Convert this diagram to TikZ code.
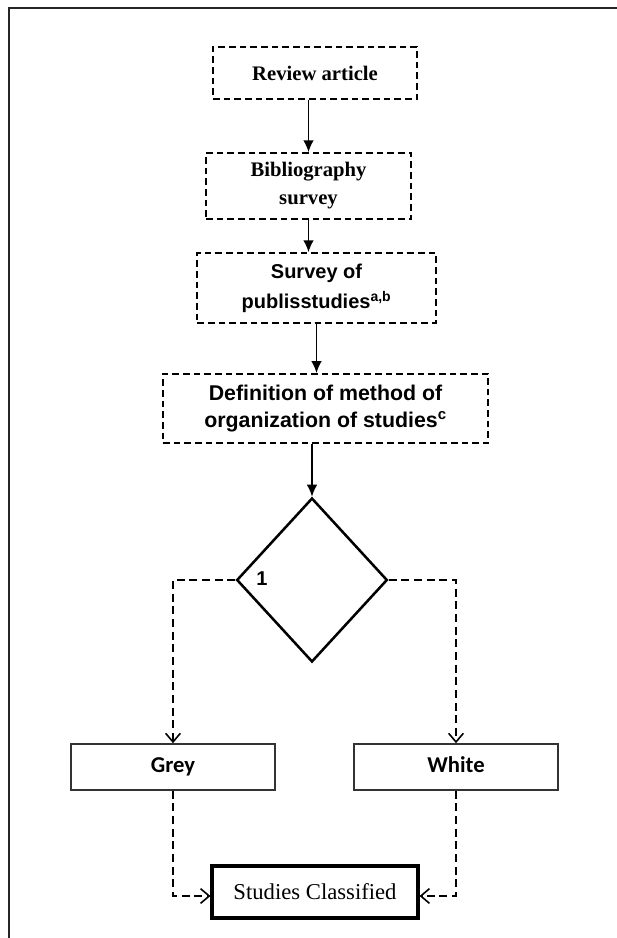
\documentclass[tikz,border=0pt]{standalone}
\usepackage{fontspec}
\setmainfont{Liberation Serif}
\newfontfamily\arialf{Liberation Sans}
\newfontfamily\calibf{Carlito}
\usepackage{tikz}
\usetikzlibrary{shapes.geometric}
\usetikzlibrary{arrows.meta}
\tikzstyle{dbox} = [draw, dashed, line width=1.1pt, dash pattern=on 5pt off 3pt,
	align=center, inner sep=0pt]
\tikzstyle{pbox} = [draw=black!80, line width=1.2pt, inner sep=0pt,
	minimum width=153pt, minimum height=34.5pt, text height=0.85em, text depth=0.1em,
	font=\calibf\fontsize{17}{20}\selectfont\bfseries]
\tikzstyle{arrow} = [line width=1.3pt, -{Latex[length=9pt,width=8pt]}]
\tikzstyle{darrow} = [line width=1.2pt, dash pattern=on 6pt off 3.5pt,
	-{Straight Barb[length=6.5pt,width=11pt,line width=1.2pt]}]

\begin{document}
\begin{tikzpicture}[x=0.75pt,y=-0.75pt]
	\useasboundingbox (0,0) rectangle (617,938);
	\draw[line width=1.5pt, black!85] (617,8) -- (9,8) -- (9,938);    % frame

	\node[dbox, minimum width=153pt, minimum height=39pt,
		font=\fontsize{15.5}{21}\selectfont\bfseries] (rev) at (315,73) {Review article};
	\node[dbox, minimum width=153.75pt, minimum height=49.5pt,
		font=\fontsize{15.5}{21}\selectfont\bfseries] (bib) at (308.5,186) {Bibliography\\ survey};
	\node[dbox, minimum width=179pt, minimum height=52.5pt,
		font=\arialf\fontsize{15}{22.5}\selectfont\bfseries] (pub) at (316.5,288)
		{Survey of\\ publisstudies\textsuperscript{a,b}};
	\node[dbox, minimum width=244pt, minimum height=52pt,
		font=\arialf\fontsize{16}{20.5}\selectfont\bfseries] (def) at (325.5,408.5)
		{Definition of method of\\ organization of studies\textsuperscript{c}};

	\node[diamond, draw, line width=1.9pt, inner sep=0pt, minimum width=113pt,
		minimum height=123pt] (dec) at (312,580) {};
	\node[font=\arialf\fontsize{15}{18}\selectfont\bfseries] (one) at (262,579) {1};

	\node[pbox] (grey) at (173,767) {Grey};
	\node[pbox] (white) at (456,767) {White};
	\node[draw, line width=2.3pt, minimum width=154.5pt, minimum height=39pt,
		inner sep=0pt, font=\fontsize{17}{20}\selectfont] (res) at (315,892) {Studies Classified};

	\draw[arrow] (rev.south -| bib.north) -- (bib.north);
	\draw[arrow] (bib.south) -- (bib.south |- pub.north);
	\draw[arrow] (pub.south) -- (pub.south |- def.north);
	\draw[arrow] (def.south -| dec.north) -- (dec.north);

	\draw[darrow] (dec.west) -| (grey.north);
	\draw[darrow] (dec.east) -| (white.north);
	\draw[darrow] (grey.south) |- ([yshift=-3pt]res.west);
	\draw[darrow] (white.south) |- ([yshift=-3pt]res.east);
\end{tikzpicture}
\end{document}
